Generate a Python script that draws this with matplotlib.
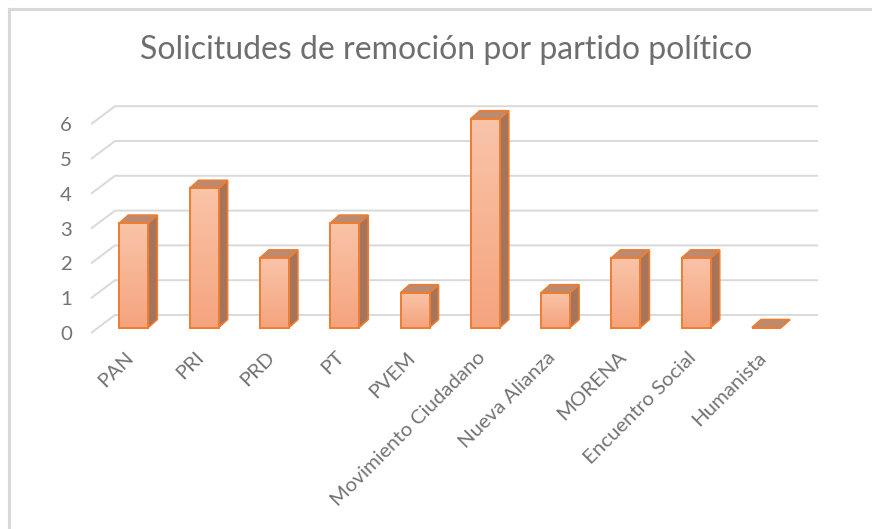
import matplotlib
matplotlib.use('Agg')
import matplotlib.pyplot as plt
import numpy as np
from matplotlib.patches import Polygon
from matplotlib.lines import Line2D
from matplotlib.colors import LinearSegmentedColormap

# ---------------- data ----------------
categories = ["PAN", "PRI", "PRD", "PT", "PVEM", "Movimiento Ciudadano",
              "Nueva Alianza", "MORENA", "Encuentro Social", "Humanista"]
values = [3, 4, 2, 3, 1, 6, 1, 2, 2, 0]
yticks = [0, 1, 2, 3, 4, 5, 6]
title = "Solicitudes de remoción por partido político"

# ---------------- styling / layout ----------------
plt.rcParams['font.family'] = ['Lato', 'DejaVu Sans']
W, H = 872, 529
fig = plt.figure(figsize=(W / 100, H / 100), dpi=100)
fig.patch.set_facecolor('white')
ax = fig.add_axes([0, 0, 1, 1])

px_cat, px_val = 70.3, 34.8          # pixels per category / per unit
x0_px, y0_px = 133.8, 327.5          # first category centre, zero level (from top)
xlim = (-x0_px / px_cat, (W - x0_px) / px_cat)
ylim = (-(H - y0_px) / px_val, y0_px / px_val)

# 3D-look parameters (in data units)
front_dy = -5.5 / px_val
back_dy = 12.5 / px_val
front_x = (91 - x0_px) / px_cat
back_x = (115 - x0_px) / px_cat
right_x = (818 - x0_px) / px_cat
bar_w = 29 / px_cat
ddx, ddy = 9 / px_cat, 8 / px_val

grid_c = '#d9d9d9'
text_c = '#737373'
edge_c = '#ed7d31'
side_c = '#a6735b'
top_c = '#bb8a70'
grad = LinearSegmentedColormap.from_list('g', ['#f9c4a9', '#f5a47d'])

renderer = fig.canvas.get_renderer()


def fit_size(s, target_px, **kw):
    t = fig.text(0, 0, s, fontsize=10, **kw)
    w = t.get_window_extent(renderer).width
    t.remove()
    return 10 * target_px / w


# gridlines (floor diagonal + back wall)
for v in yticks:
    ax.plot([front_x, back_x, right_x], [v + front_dy, v + back_dy, v + back_dy],
            color=grid_c, lw=1.4, zorder=1, solid_capstyle='butt')

# bars
bars = ax.bar(range(len(values)), values, width=bar_w, color='#f7b08d',
              edgecolor=edge_c, linewidth=1.4, zorder=3)
for i, (v, b) in enumerate(zip(values, bars)):
    l, r = i - bar_w / 2, i + bar_w / 2
    side = Polygon([(r, 0), (r + ddx, ddy), (r + ddx, v + ddy), (r, v)],
                   closed=True, fc=side_c, ec=edge_c, lw=1.2, zorder=2.5)
    top = Polygon([(l, v), (l + ddx, v + ddy), (r + ddx, v + ddy), (r, v)],
                  closed=True, fc=top_c, ec=edge_c, lw=1.2, zorder=2.6)
    ax.add_patch(side)
    ax.add_patch(top)
    if v > 0:
        im = ax.imshow(np.linspace(0, 1, 256).reshape(-1, 1), cmap=grad,
                       extent=[l, r, 0, v], origin='upper', aspect='auto',
                       zorder=3.1, interpolation='bilinear')
        im.set_clip_path(b)
        b.set_facecolor('none')
        b.set_zorder(3.2)

ax.set_xlim(*xlim)
ax.set_ylim(*ylim)
ax.axis('off')

# tick labels
lab_fs = fit_size("Movimiento Ciudadano", 210)
for v in yticks:
    ax.text((72 - x0_px) / px_cat, v + front_dy - 1.5 / px_val, str(v),
            ha='right', va='center', color=text_c, fontsize=lab_fs)
for i, c in enumerate(categories):
    ax.text(i - 3 / px_cat, -27 / px_val, c, rotation=45, rotation_mode='anchor',
            ha='right', va='center', color=text_c, fontsize=lab_fs)

# title
t_fs = fit_size(title, 615)
fig.text(446 / W, 1 - 50 / H, title, ha='center', va='center',
         fontsize=t_fs, color='#6e6e6e')

# chart border
fig.add_artist(Line2D([9 / W, 9 / W], [0, 1 - 9 / H], color=grid_c, lw=2.2,
                      transform=fig.transFigure))
fig.add_artist(Line2D([9 / W, 1], [1 - 9 / H, 1 - 9 / H], color=grid_c, lw=2.2,
                      transform=fig.transFigure))

fig.savefig('out.png', dpi=100, facecolor='white')
